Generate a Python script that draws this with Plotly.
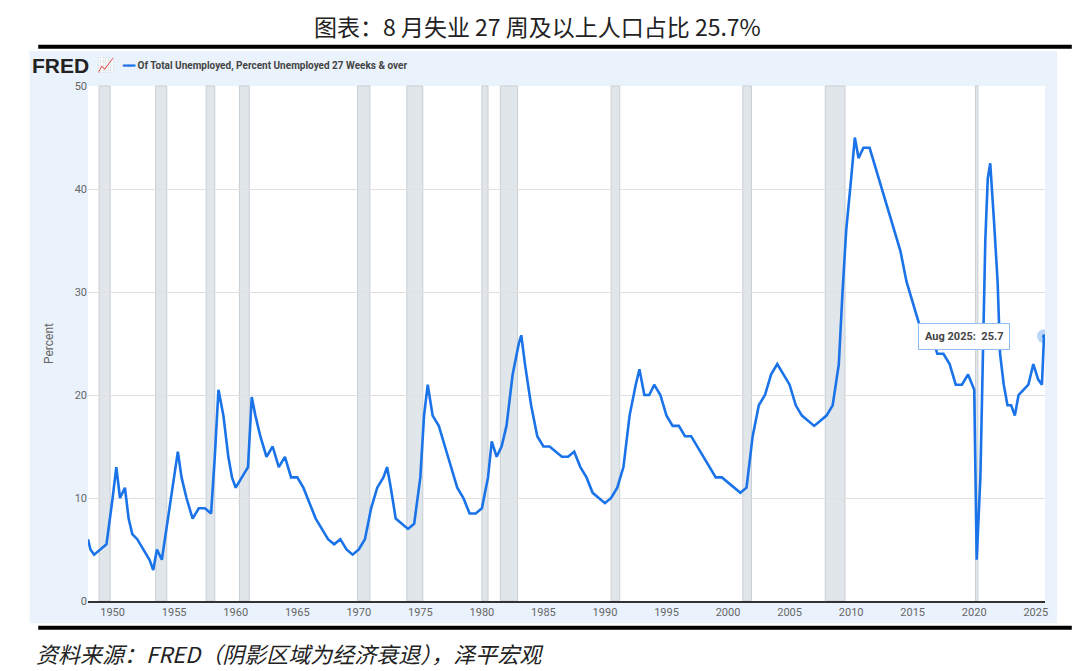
import plotly.graph_objects as go

years = [1948.0,1948.2,1948.5,1949.0,1949.5,1950.0,1950.3,1950.6,1951.0,1951.3,1951.6,1952.0,1952.5,1953.0,1953.3,1953.6,1954.0,1954.5,1955.0,1955.3,1955.6,1956.0,1956.5,1957.0,1957.5,1958.0,1958.3,1958.6,1959.0,1959.4,1959.7,1960.0,1960.5,1961.0,1961.3,1961.6,1962.0,1962.5,1963.0,1963.5,1964.0,1964.5,1965.0,1965.5,1966.0,1966.5,1967.0,1967.5,1968.0,1968.5,1969.0,1969.5,1970.0,1970.5,1971.0,1971.5,1972.0,1972.3,1972.6,1973.0,1973.5,1974.0,1974.5,1975.0,1975.3,1975.6,1976.0,1976.5,1977.0,1977.5,1978.0,1978.5,1979.0,1979.5,1980.0,1980.5,1980.8,1981.2,1981.6,1982.0,1982.5,1983.0,1983.2,1983.5,1984.0,1984.5,1985.0,1985.5,1986.0,1986.5,1987.0,1987.5,1988.0,1988.5,1989.0,1989.5,1990.0,1990.5,1991.0,1991.5,1992.0,1992.5,1992.8,1993.2,1993.6,1994.0,1994.5,1995.0,1995.5,1996.0,1996.5,1997.0,1997.5,1998.0,1998.5,1999.0,1999.5,2000.0,2000.5,2001.0,2001.5,2002.0,2002.5,2003.0,2003.5,2004.0,2004.5,2005.0,2005.5,2006.0,2006.5,2007.0,2007.5,2008.0,2008.5,2009.0,2009.3,2009.6,2010.0,2010.3,2010.6,2011.0,2011.5,2012.0,2012.5,2013.0,2013.5,2014.0,2014.5,2015.0,2015.5,2016.0,2016.5,2017.0,2017.5,2018.0,2018.5,2019.0,2019.5,2020.0,2020.2,2020.5,2020.9,2021.1,2021.3,2021.6,2021.9,2022.1,2022.4,2022.7,2023.0,2023.3,2023.6,2024.0,2024.4,2024.8,2025.2,2025.5,2025.67]
values = [6,5,4.5,5,5.5,10,13,10,11,8,6.5,6,5,4,3,5,4,8,12,14.5,12,10,8,9,9,8.5,14,20.5,18,14,12,11,12,13,19.8,18,16,14,15,13,14,12,12,11,9.5,8,7,6,5.5,6,5,4.5,5,6,9,11,12,13,11,8,7.5,7,7.5,12,18,21,18,17,15,13,11,10,8.5,8.5,9,12,15.5,14,15,17,22,25,25.8,23,19,16,15,15,14.5,14,14,14.5,13,12,10.5,10,9.5,10,11,13,18,21,22.5,20,20,21,20,18,17,17,16,16,15,14,13,12,12,11.5,11,10.5,11,16,19,20,22,23,22,21,19,18,17.5,17,17.5,18,19,23,30,36,41,45,43,44,44,42,40,38,36,34,31,29,27,26,26,24,24,23,21,21,22,20.5,4,12,35,41,42.5,37,31,24,21,19,19,18,20,20.5,21,23,21.5,21,25.7]
rec_start = [1948.9,1953.5,1957.6,1960.3,1969.9,1973.9,1980.0,1981.5,1990.5,2001.2,2007.9,2020.1]
rec_end   = [1949.8,1954.4,1958.3,1961.1,1970.9,1975.2,1980.5,1982.9,1991.2,2001.9,2009.5,2020.3]
tick_years = list(range(1950, 2030, 5))

fig = go.Figure()
fig.add_trace(go.Scatter(x=years, y=values, mode="lines", line=dict(color="#1a73e8", width=2.6), hoverinfo="skip"))
fig.add_trace(go.Scatter(x=[years[-1]], y=[values[-1]], mode="markers",
    marker=dict(size=14, color="rgba(26,115,232,0.3)", line=dict(width=0)), hoverinfo="skip"))
fig.add_trace(go.Scatter(x=[years[-1]], y=[values[-1]], mode="markers",
    marker=dict(size=4, color="#1a73e8"), hoverinfo="skip"))

fig.add_shape(type="rect", xref="paper", yref="paper", x0=-0.061, x1=1.0125, y0=-0.043, y1=1.068,
              fillcolor="#eaf2fb", line=dict(width=0), layer="below")
fig.add_shape(type="rect", xref="paper", yref="paper", x0=0, x1=1, y0=0, y1=1,
              fillcolor="white", line=dict(width=0), layer="below")
for s, e in zip(rec_start, rec_end):
    fig.add_shape(type="rect", xref="x", yref="paper", x0=s, x1=e, y0=0, y1=1,
                  fillcolor="#e1e6eb", line=dict(color="#c8ced4", width=1), layer="below")
fig.add_shape(type="line", xref="paper", yref="paper", x0=-0.052, x1=1.028, y0=1.076, y1=1.076,
              line=dict(color="black", width=4))
fig.add_shape(type="line", xref="paper", yref="paper", x0=-0.052, x1=1.028, y0=-0.052, y1=-0.052,
              line=dict(color="black", width=4))

fig.add_annotation(text="图表：8 月失业 27 周及以上人口占比 25.7%", xref="paper", yref="paper",
                   x=0.47, xanchor="center", y=1.116, yanchor="middle", showarrow=False,
                   font=dict(family="Noto Sans CJK SC", size=23, color="#222"))
fig.add_annotation(text="<i>资料来源：FRED（阴影区域为经济衰退），泽平宏观</i>", xref="paper", yref="paper",
                   x=-0.056, xanchor="left", y=-0.1, yanchor="middle", showarrow=False,
                   font=dict(family="Noto Sans CJK SC", size=22, color="#222"))
fig.add_annotation(text="<b>FRED</b>", xref="paper", yref="paper", x=-0.061, xanchor="left", y=1.039,
                   yanchor="middle", showarrow=False, font=dict(family="Liberation Sans", size=21, color="#222"))
fig.add_annotation(text="<span style='color:#7ab0e0'>📈</span>", xref="paper", yref="paper", x=0.007,
                   xanchor="left", y=1.039, yanchor="middle", showarrow=False, font=dict(size=14))
fig.add_annotation(text="<span style='color:#1a73e8'><b>━━</b></span> <b>Of Total Unemployed, Percent Unemployed 27 Weeks & over</b>",
                   xref="paper", yref="paper", x=0.033, xanchor="left", y=1.039, yanchor="middle", showarrow=False,
                   font=dict(family="Roboto", size=10, color="#444"))
fig.add_annotation(text="<b>Aug 2025:  25.7</b>", x=years[-1], y=values[-1],
                   showarrow=False, xshift=-80, bgcolor="white", bordercolor="#8fbef5", borderwidth=1,
                   borderpad=6, font=dict(family="Roboto", size=11, color="#444"))

fig.update_layout(
    width=1080, height=671, margin=dict(l=80, r=43, t=78, b=78),
    paper_bgcolor="white", plot_bgcolor="rgba(0,0,0,0)", showlegend=False,
    font=dict(family="Roboto", color="#666", size=11),
    xaxis=dict(range=[1948, 2025.75], tickvals=tick_years, ticktext=[str(y) for y in tick_years],
               showgrid=False, showline=True, linecolor="#333", linewidth=1.5, ticks="", zeroline=False),
    yaxis=dict(range=[0, 50], dtick=10, showgrid=True, gridcolor="#e0e0e0", zeroline=False,
               title=dict(text="Percent", font=dict(size=12, color="#666"), standoff=18), ticks=""),
)
fig.write_html("out.html")
